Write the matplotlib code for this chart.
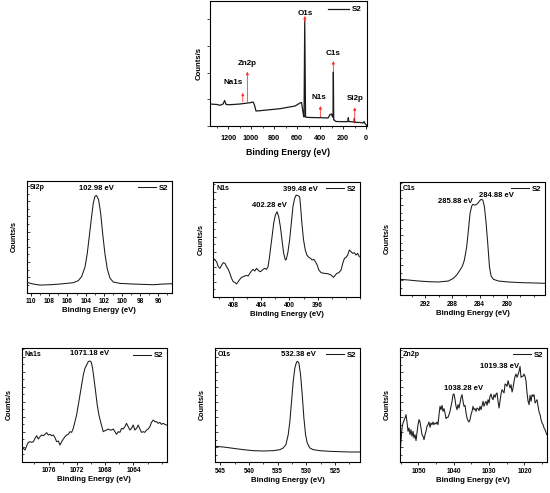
"""XPS spectra of sample S2: survey scan plus six high-resolution regions."""

import matplotlib

matplotlib.use("Agg")
import matplotlib.pyplot as plt
from matplotlib.ticker import MultipleLocator, AutoMinorLocator, FixedLocator

plt.rcParams["font.family"] = ["Liberation Sans", "DejaVu Sans"]
plt.rcParams["font.weight"] = "bold"
plt.rcParams["axes.labelweight"] = "bold"

LINE = "#1a1a1a"

# ---- survey scan ----
survey_be = [1357, 1296, 1270, 1243, 1230, 1217, 1183, 1096, 1009, 983, 970, 957,
             922, 748, 617, 574, 561, 552, 543, 539, 533, 526, 517, 487, 400, 395,
             390, 330, 313, 300, 291, 287, 284, 281, 278, 261, 183, 157, 154, 150,
             104, 101, 98, 52, 26, 17, 9, -6]
survey_counts = [22, 21.5, 20.7, 22, 25.5, 21.5, 21.3, 22, 23.3, 24, 21, 15,
                 15.3, 17.3, 20, 23, 23.5, 17, 10, 9, 106, 9, 8.7, 8.5, 8.3, 8.8,
                 8.3, 8, 11.5, 12, 9, 9, 54, 6, 6, 4.5, 4.3, 4.5, 8.3, 4.5,
                 4, 7.7, 3.7, 3.5, 3, 4.5, 2.5, 0.5]
survey_marks = ["Na1s", "Zn2p", "O1s", "N1s", "C1s", "Si2p"]
survey_mark_be = [1072, 1032, 532, 397, 284, 98]
survey_arrow_from = [24.3, 24.3, 104, 9.3, 54.3, 2.7]
survey_arrow_to = [33.3, 54.3, 110, 20, 65, 18.7]
survey_text_be = [1154, 1032, 532, 406, 284, 96]
survey_text_y = [43.3, 62.7, 112.7, 28.3, 72.7, 27.7]

# ---- Si2p ----
si_be = [110.5, 109.77, 109.03, 107.93, 106.83, 106.09, 105.36, 104.81, 104.44,
         104.07, 103.82, 103.60, 103.34, 103.15, 102.97, 102.79, 102.57, 102.34,
         102.12, 101.87, 101.61, 101.32, 100.95, 100.21, 98.74, 97.64, 96.54,
         95.44, 94.52]
si_counts = [30, 25, 22, 23, 25, 27, 29, 35, 47, 75, 115, 165, 225, 265, 285, 287,
             275, 235, 175, 115, 70, 43, 31, 27, 25, 24, 23, 25, 26]
si_ticks = [110, 108, 106, 104, 102, 100, 98, 96]

# ---- N1s ----
n_be = [410.80, 410.56, 410.33, 410.09, 409.86, 409.62, 409.39, 409.15, 408.92,
        408.68, 408.45, 408.21, 407.98, 407.74, 407.51, 407.27, 407.04, 406.80,
        406.56, 406.33, 406.09, 405.86, 405.62, 405.39, 405.15, 404.92, 404.68,
        404.45, 404.21, 403.98, 403.74, 403.51, 403.27, 403.04,
        402.89, 402.71, 402.47, 402.24, 402.00, 401.76, 401.53, 401.29, 401.06,
        400.82, 400.59, 400.45, 400.21, 399.98, 399.74, 399.51, 399.27, 399.04,
        398.80, 398.56,
        398.42, 398.24, 398.00, 397.76, 397.53, 397.25, 397.01, 396.78, 396.54,
        396.31, 396.07, 395.84,
        395.51, 395.04, 394.56, 394.09, 393.76, 393.53, 393.29, 393.01, 392.68,
        392.45, 392.21, 391.98, 391.74, 391.51, 391.27, 391.04, 390.80, 390.56,
        390.33, 390.09]
n_counts = [115, 110, 105, 90, 85, 95, 102, 100, 90, 82, 70, 55, 45, 43, 38, 45,
            52, 58, 60, 62, 64, 62, 70, 77, 82, 77, 85, 80, 75, 77, 82, 85, 82, 90,
            110, 140, 180, 220, 245, 255, 240, 210, 170, 130, 110, 112, 135, 170,
            220, 270, 295, 305, 303, 300,
            270, 220, 170, 140, 125, 118, 115, 110, 112, 105, 95, 80,
            72, 70, 69, 65, 58, 64, 70, 72, 80, 100, 115, 118, 125, 140, 135, 130,
            132, 125, 130, 120]
n_ticks = [408, 404, 400, 396]

# ---- C1s ----
c_be = [295.70, 294.47, 293.00, 291.53, 290.06, 288.59, 287.86, 287.37, 286.88,
        286.53, 286.24, 285.90, 285.65, 285.41, 285.16, 285.01, 284.77, 284.52,
        284.28, 284.03, 283.79, 283.54, 283.30, 283.05, 282.81, 282.56, 282.32,
        281.97, 281.24, 279.77, 277.81, 275.85, 274.38]
c_counts = [47, 45, 42, 40, 39, 42, 50, 60, 75, 87, 105, 145, 195, 245, 267, 272,
            270, 271, 275, 282, 287, 285, 265, 215, 155, 85, 57, 47, 42, 39, 37,
            36, 35]
c_ticks = [292, 288, 284, 280]

# ---- Na1s ----
na_be = [1079.80, 1079.56, 1079.33, 1079.09, 1078.86, 1078.62, 1078.39, 1078.15,
         1077.92, 1077.68, 1077.45, 1077.21, 1076.98, 1076.74, 1076.51, 1076.27,
         1076.04, 1075.80, 1075.56, 1075.33, 1075.09, 1074.86, 1074.62, 1074.39,
         1074.15, 1073.92, 1073.68, 1073.45, 1073.21, 1072.98, 1072.74, 1072.51,
         1072.27, 1072.04, 1071.80, 1071.56, 1071.33, 1071.09, 1070.86, 1070.62,
         1070.39, 1070.15,
         1069.96, 1069.78, 1069.59, 1069.35, 1069.12, 1068.88, 1068.65, 1068.46,
         1068.27,
         1068.04, 1067.80, 1067.56, 1067.33, 1067.09, 1066.86, 1066.62, 1066.39,
         1066.15, 1065.92, 1065.68, 1065.45, 1065.21, 1064.98, 1064.74, 1064.51,
         1064.27, 1064.04, 1063.80, 1063.56, 1063.33, 1063.09, 1062.86, 1062.62,
         1062.39, 1062.15, 1061.92, 1061.68, 1061.45, 1061.21, 1060.98, 1060.74,
         1060.51, 1060.27, 1060.04, 1059.80, 1059.56, 1059.33]
na_counts = [45, 40, 35, 48, 58, 60, 58, 60, 70, 78, 68, 75, 80, 78, 82, 87, 80,
             82, 78, 80, 72, 60, 62, 50, 60, 68, 75, 80, 82, 90, 88, 100, 120, 140,
             170, 200, 230, 260, 280, 290, 300, 302,
             298, 280, 250, 210, 170, 140, 120, 105, 90,
             93, 95, 98, 95, 95, 98, 90, 82, 90, 88, 100, 98, 105, 115, 105, 95,
             100, 110, 95, 100, 110, 98, 88, 90, 88, 95, 98, 105, 118, 125, 120,
             120, 115, 118, 112, 115, 112, 110]
na_ticks = [1076, 1072, 1068, 1064]

# ---- O1s ----
o_be = [545.90, 544.45, 542.71, 540.97, 539.23, 537.49, 535.76, 534.60, 534.02,
        533.55, 533.15, 532.86, 532.57, 532.28, 531.99, 531.70, 531.52, 531.29,
        531.00, 530.71, 530.42, 530.13, 529.84, 529.38, 528.80, 527.64, 525.90,
        524.16, 522.42, 520.68]
o_counts = [47, 45, 41, 37, 34, 33, 34, 37, 42, 52, 82, 122, 182, 242, 282, 300,
            302, 297, 262, 202, 132, 82, 57, 42, 37, 34, 32, 31, 30, 30]
o_ticks = [545, 540, 535, 530, 525]

# ---- Zn2p ----
zn_be = [1055.20, 1054.92, 1054.63, 1054.35, 1054.07, 1053.78, 1053.50, 1053.22,
         1052.93, 1052.65, 1052.36, 1052.08, 1051.80, 1051.51, 1051.24, 1050.95,
         1050.67, 1050.39, 1050.11, 1049.82, 1049.54, 1049.26, 1048.97, 1048.69,
         1048.41, 1048.12, 1047.84, 1047.56, 1047.28, 1046.99, 1046.71, 1046.43,
         1046.14, 1045.86, 1045.58, 1045.29, 1045.01, 1044.73, 1044.45, 1044.16,
         1043.88, 1043.60, 1043.31, 1043.03, 1042.75, 1042.46, 1042.18, 1041.90,
         1041.62, 1041.33, 1041.05, 1040.77, 1040.48, 1040.20, 1039.92, 1039.63,
         1039.35, 1039.07, 1038.78, 1038.50, 1038.22, 1037.94, 1037.65, 1037.37,
         1037.09, 1036.80, 1036.52, 1036.24, 1035.95, 1035.67, 1035.39, 1035.11,
         1034.82, 1034.54, 1034.26, 1033.97, 1033.69, 1033.41, 1033.12, 1032.84,
         1032.56, 1032.28, 1031.99, 1031.71, 1031.43, 1031.14, 1030.86, 1030.58,
         1030.29, 1030.01, 1029.73, 1029.45, 1029.16, 1028.88, 1028.60, 1028.31,
         1028.03, 1027.75, 1027.46, 1027.18, 1026.90, 1026.62, 1026.33, 1026.05,
         1025.77, 1025.48, 1025.20, 1024.92, 1024.63, 1024.35, 1024.07, 1023.79,
         1023.50, 1023.22, 1022.94, 1022.65, 1022.37, 1022.09, 1021.80, 1021.52,
         1021.24, 1020.96, 1020.67, 1020.39, 1020.11, 1019.82, 1019.54, 1019.26,
         1018.97, 1018.69, 1018.41, 1018.13, 1017.84, 1017.56, 1017.28, 1016.99,
         1016.71, 1016.43, 1016.14, 1015.86, 1015.58, 1015.30, 1015.01, 1014.73,
         1014.45, 1014.16, 1013.69]
zn_counts = [27, 62, 102, 117, 124, 132, 142, 120, 92, 102, 82, 97, 77, 92, 72, 82,
             64, 87, 112, 127, 120, 102, 82, 77, 67, 82, 92, 107, 112, 120, 104,
             117, 112, 120, 112, 117, 114, 120, 112, 142, 167, 157, 170, 152, 160,
             147, 130, 134, 134, 142, 152, 167, 182, 202, 204, 187, 167, 157, 172,
             162, 177, 194, 202, 182, 167, 170, 147, 132, 124, 120, 127, 142, 152,
             167, 157, 160, 152, 162, 160, 154, 167, 157, 170, 182, 167, 177, 182,
             170, 187, 177, 197, 204, 192, 187, 202, 194, 204, 207, 182, 162, 182,
             204, 217, 212, 207, 234, 232, 227, 244, 232, 222, 232, 210, 222, 242,
             257, 264, 254, 262, 272, 287, 254, 257, 257, 264, 257, 242, 207, 182,
             172, 200, 182, 202, 197, 202, 177, 182, 187, 167, 150, 142, 127, 117,
             112, 102, 97, 82]
zn_ticks = [1050, 1040, 1030, 1020]


def style_axes(ax, xticks, xminor, ydir="in", ymajor=45):
    for side in ax.spines.values():
        side.set_linewidth(0.8)
    ax.xaxis.set_major_locator(FixedLocator(xticks))
    ax.xaxis.set_minor_locator(MultipleLocator(xminor))
    ax.yaxis.set_major_locator(MultipleLocator(ymajor))
    ax.yaxis.set_minor_locator(AutoMinorLocator(2))
    ax.tick_params(axis="x", which="major", direction="out", length=2.5, width=0.6,
                   labelsize=4.7, pad=1.5)
    ax.tick_params(axis="x", which="minor", direction="out", length=1.5, width=0.5)
    ax.tick_params(axis="y", which="major", direction=ydir, length=2.2, width=0.5,
                   labelleft=False)
    ax.tick_params(axis="y", which="minor", direction=ydir, length=1.2, width=0.5)
    for lab in ax.get_xticklabels():
        lab.set_fontweight("bold")


def panel(rect, be, counts, xlim, ylim, xticks, xminor, name, peaks):
    ax = fig.add_axes(rect)
    ax.plot(be, counts, color=LINE, lw=0.75, label="S2")
    ax.set_xlim(*xlim)
    ax.set_ylim(*ylim)
    style_axes(ax, xticks, xminor)
    ax.set_xlabel("Binding Energy (eV)", fontsize=5.6, labelpad=1.5)
    ax.set_ylabel("Counts/s", fontsize=5.2, labelpad=3)
    ax.text(0.02, 0.975, name, transform=ax.transAxes, ha="left", va="top",
            fontsize=5, fontweight="bold")
    for txt, x, y in peaks:
        ax.text(x, y, txt, ha="center", va="center", fontsize=5.5, fontweight="bold")
    ax.legend(loc="upper right", frameon=False, handlelength=2.3,
              handletextpad=0.4, borderaxespad=0.15, borderpad=0.3,
              prop={"weight": "bold", "size": 5.6})
    return ax


W, H = 550, 493
fig = plt.figure(figsize=(W / 100, H / 100), dpi=100)


def rect(left, right, top, bottom):
    return [left / W, 1 - bottom / H, (right - left) / W, (bottom - top) / H]


# survey
ax0 = fig.add_axes(rect(210, 366.7, 1, 126))
ax0.plot(survey_be, survey_counts, color=LINE, lw=0.9, label="S2")
ax0.set_xlim(1357, -6)
ax0.set_ylim(0, 125)
style_axes(ax0, [1200, 1000, 800, 600, 400, 200, 0], 100, ydir="out", ymajor=26.7)
ax0.yaxis.set_minor_locator(MultipleLocator(26.7))
ax0.tick_params(axis="x", labelsize=5.2, pad=4)
ax0.set_xlabel("Binding Energy (eV)", fontsize=6.3, labelpad=4.5)
ax0.set_ylabel("Counts/s", fontsize=5.6, labelpad=3)
for name, x, y0, y1, tx, ty in zip(survey_marks, survey_mark_be, survey_arrow_from,
                                   survey_arrow_to, survey_text_be, survey_text_y):
    ax0.annotate("", xy=(x, y1), xytext=(x, y0),
                 arrowprops=dict(arrowstyle="-|>", color="#ff3030", lw=0.6,
                                 mutation_scale=4, shrinkA=0, shrinkB=0))
    ax0.text(tx, ty, name, ha="center", va="center", fontsize=5.8, fontweight="bold")
ax0.legend(loc="upper right", frameon=False, handlelength=2.6, handletextpad=0.4,
           borderaxespad=0.2, borderpad=0.4, prop={"weight": "bold", "size": 5.8})

panel(rect(26.7, 171.7, 181, 292.5), si_be, si_counts, (110.5, 94.5), (0, 330),
      si_ticks, 1, "Si2p", [("102.98 eV", 102.79, 308)])
panel(rect(213.3, 360, 181.7, 296.7), n_be, n_counts, (410.8, 390), (0, 345),
      n_ticks, 2, "N1s", [("402.28 eV", 402.8, 275), ("399.48 eV", 398.47, 322)])
panel(rect(400, 545, 181.7, 295), c_be, c_counts, (295.7, 274.4), (0, 340),
      c_ticks, 2, "C1s", [("285.88 eV", 287.51, 280), ("284.88 eV", 281.48, 300)])
panel(rect(21.7, 166.7, 348.3, 461.7), na_be, na_counts, (1079.8, 1059.3), (0, 340),
      na_ticks, 2, "Na1s", [("1071.18 eV", 1070.15, 323)])
panel(rect(215, 360, 348, 462), o_be, o_counts, (545.9, 520.65), (0, 342),
      o_ticks, 2.5, "O1s", [("532.38 eV", 531.41, 322)])
panel(rect(400, 546.7, 348, 462), zn_be, zn_counts, (1055.2, 1013.7), (0, 342),
      zn_ticks, 5, "Zn2p", [("1038.28 eV", 1037.28, 222), ("1019.38 eV", 1026.9, 287)])

fig.savefig("out.png", dpi=100)
